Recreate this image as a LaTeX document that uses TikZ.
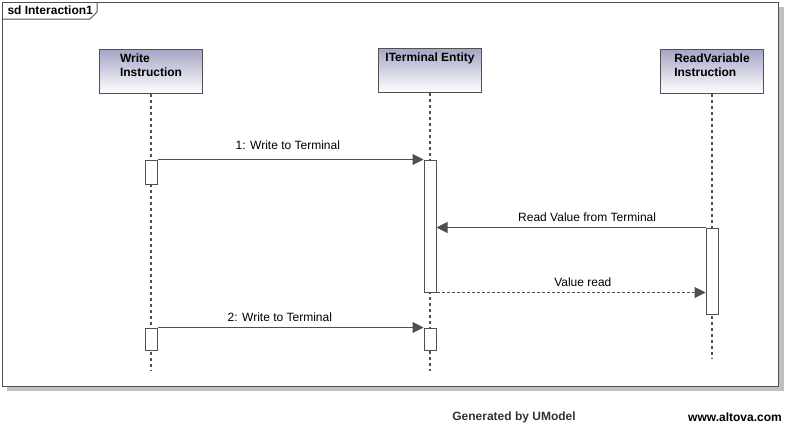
\documentclass[tikz,border=0pt]{standalone}
\usepackage{fontspec}
\setmainfont{Liberation Sans}
\usepackage{tikz}
\usetikzlibrary{arrows.meta}
\usetikzlibrary{positioning}
\definecolor{umlline}{RGB}{80,80,80}
\definecolor{umlhead}{RGB}{166,166,198}
\definecolor{umlshadow}{RGB}{192,192,192}
\newcommand{\umlfont}{\fontsize{12}{14}\selectfont}
\tikzset{head/.style={draw=umlline,top color=umlhead,bottom color=white,minimum width=103pt,minimum height=44pt,inner sep=0pt,anchor=north}}
\tikzset{headtext/.style={font=\umlfont\bfseries,align=left,inner sep=0pt}}
\tikzset{act/.style={draw=umlline,fill=white,minimum width=12pt,inner sep=0pt}}
\tikzset{lifeline/.style={draw=umlline,line width=2pt,dash pattern=on 3pt off 3pt}}
\tikzset{msg/.style={draw=umlline,-{Triangle[length=11pt,width=11pt]}}}
\tikzset{msglabel/.style={font=\umlfont,text=black,yshift=10.5pt,inner sep=0pt}}

\begin{document}
\begin{tikzpicture}[%
		x = 1pt, y = -1pt, % pixel grid
		line width = 1pt, % line style
		]
		\useasboundingbox (0,0) rectangle (794,426);
		
		% Frame
		\fill[umlshadow] (7,7) rectangle (784,391);
		\draw[umlline,fill=white] (2,2) rectangle (778,386);
		\draw[umlline] (2,19) -- (90,19) -- (97,12) -- (97,2);
		\node[font=\umlfont\bfseries,anchor=west,inner sep=0pt] (title) at (7,10.5) {sd Interaction1};
		
		% Heads
		\node[head] (wi) at (151,49) {};
		\node[head] (te) at (430,48) {};
		\node[head] (rv) at (712,49) {};
		\node[headtext, below=4.5pt of wi.north] (wit) {Write\\Instruction};
		\node[headtext, below=4pt of te.north] (tet) {ITerminal Entity};
		\node[headtext, below=4pt of rv.north] (rvt) {ReadVariable\\Instruction};
		
		% Lifelines
		\coordinate (wiend) at (151,371);
		\coordinate (teend) at (430,371);
		\coordinate (rvend) at (712,359);
		\draw[lifeline] (wi.south) -- (wiend);
		\draw[lifeline] (te.south) -- (teend);
		\draw[lifeline] (rv.south) -- (rvend);
		
		% Activations
		\node[act, minimum height=24pt] (wa1) at (151,172) {};
		\node[act, minimum height=22pt] (wa2) at (151,339) {};
		\node[act, minimum height=132pt] (ta1) at (430,226) {};
		\node[act, minimum height=22pt] (ta2) at (430,339) {};
		\node[act, minimum height=86pt] (ra) at (712,271) {};
		
		% Messages
		\path[msg] (wa1.north east) -- node[msglabel, pos=0.49, yshift=4pt] {1: Write to Terminal} (ta1.north west);
		\path[msg] (ra.north west) -- node[msglabel, pos=0.44] {Read Value from Terminal} (ra.north west -| ta1.east);
		\path[msg, dash pattern=on 3pt off 2pt] (ta1.south east) -- node[msglabel, pos=0.544] {Value read} (ta1.south east -| ra.west);
		\path[msg] (wa2.north east) -- node[msglabel, pos=0.46] {2: Write to Terminal} (ta2.north west);
		
		% Footer
		\node[font=\umlfont\bfseries,text=black!80,inner sep=0pt] (gen) at (514,417) {Generated by UModel};
		\node[font=\umlfont\bfseries,inner sep=0pt] (www) at (735,417) {www.altova.com};
		\end{tikzpicture}
\end{document}
